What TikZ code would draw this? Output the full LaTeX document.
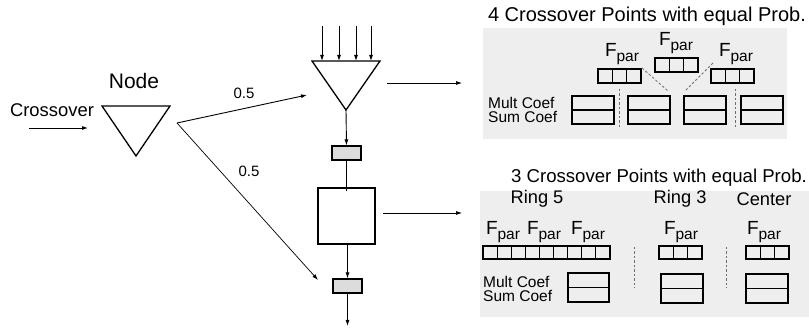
\documentclass[tikz,border=0pt]{standalone}
\usepackage{fontspec}
\setmainfont{Liberation Sans}
\usetikzlibrary{arrows.meta}
\definecolor{panelgray}{RGB}{238,238,238}
\definecolor{boxgray}{RGB}{220,220,220}
\definecolor{dashgray}{RGB}{110,110,110}
\newcommand{\fsz}[1]{\fontsize{#1}{#1}\selectfont}
\newcommand{\Fpar}{\fsz{19}F\raisebox{-0.3em}{\fsz{15.5}par}}
\begin{document}
\begin{tikzpicture}[x=1pt,y=-1pt,
  arr/.style={-{Latex[length=6pt,width=4pt]},line width=0.9pt},
  plain/.style={line width=0.9pt},
  tri/.style={line width=1.3pt,line join=miter},
  cell/.style={draw,line width=1.1pt},
  dsh/.style={dashed,dash pattern=on 2.5pt off 2pt,dashgray,line width=0.8pt},
  lbl/.style={inner sep=0pt},
  coef/.style={inner sep=0pt,anchor=west}]
\useasboundingbox (0,0) rectangle (809,328);
% panels
\fill[panelgray] (483,28) rectangle (787,139);
\fill[panelgray] (480,191) rectangle (809,317);
% left part
\node[lbl] (cross) at (52,110) {\fsz{18.4}Crossover};
\coordinate (cin) at (29,128);
\coordinate (cout) at (88,128);
\draw[arr] (cin) -- (cout);
\node[lbl] (nodelbl) at (134,81) {\fsz{21}Node};
\coordinate (t1a) at (102,106); \coordinate (t1b) at (170,106); \coordinate (t1c) at (136,156);
\draw[tri] (t1a) -- (t1b) -- (t1c) -- cycle;
\coordinate (split) at (177,123);
\coordinate (up) at (307,95);
\coordinate (down) at (318,280);
\draw[arr] (split) -- (up);
\draw[arr,line width=0.7pt] (split) -- (down);
\node[lbl] (p1) at (244,93) {\fsz{15}0.5};
\node[lbl] (p2) at (249,171) {\fsz{15}0.5};
% top triangle
\coordinate (t2a) at (312,61); \coordinate (t2b) at (380,61); \coordinate (t2c) at (346,110);
\draw[tri] (t2a) -- (t2b) -- (t2c) -- cycle;
\foreach \xx/\nm in {322/i1,339/i2,356/i3,371/i4}{
  \coordinate (\nm s) at (\xx,26);
  \coordinate (\nm e) at (\xx,61);
  \draw[arr] (\nm s) -- (\nm e);
}
\node[cell,fill=boxgray,minimum width=29pt,minimum height=14pt,inner sep=0pt] (g1) at (346.5,153) {};
\draw[arr] (t2c) -- (g1.north);
\node[cell,minimum width=57pt,minimum height=56pt,inner sep=0pt] (big) at (346.5,216) {};
\draw[plain] ([yshift=2pt]g1.south) -- ([yshift=-4pt]big.north);
\node[cell,fill=boxgray,minimum width=29pt,minimum height=14pt,inner sep=0pt] (g2) at (347.5,286) {};
\draw[arr] (big.south -| g2.north) -- (g2.north);
\coordinate (outend) at (347.5,326);
\draw[arr] (g2.south) -- (outend);
\coordinate (r1s) at (387,83); \coordinate (r1e) at (462,83);
\draw[arr,line width=0.7pt] (r1s) -- (r1e);
\coordinate (r2s) at (383,213); \coordinate (r2e) at (462,213);
\draw[arr,line width=0.7pt] (r2s) -- (r2e);
% panel 1
\node[lbl] (title1) at (647,16) {\fsz{20}4 Crossover Points with equal Prob.};
\foreach \x/\y/\nm in {598/69/a,655/58/b,711/69/c}{
  \draw[cell] (\x,\y) rectangle ++(43,14);
  \draw[line width=1.1pt] (\x+14.33,\y) -- ++(0,14) (\x+28.67,\y) -- ++(0,14);
  \coordinate (\nm) at (\x,\y);
}
\foreach \x in {572,628,684,741}{
  \draw[cell] (\x,96) rectangle ++(42,28);
  \draw[line width=1.1pt] (\x,110) -- ++(42,0);
}
\coordinate (d1s) at (642,68); \coordinate (d1e) at (668,91);
\coordinate (d2s) at (713,63); \coordinate (d2e) at (685,91);
\draw[dsh] (d1s) -- (d1e);
\draw[dsh] (d2s) -- (d2e);
\coordinate (v1s) at (619,89); \coordinate (v1e) at (619,129);
\coordinate (v2s) at (735,89); \coordinate (v2e) at (735,129);
\draw[dsh] (v1s) -- (v1e);
\draw[dsh] (v2s) -- (v2e);
\node[lbl] (fa) at (622,54) {\Fpar};
\node[lbl] (fb) at (676,43) {\Fpar};
\node[lbl] (fc) at (736,54) {\Fpar};
\node[coef] (coefa) at (488,103) {\fsz{15.5}Mult Coef};
\node[coef] (coefb) at (488,117) {\fsz{15.5}Sum Coef};
% panel 2
\node[lbl] (title2) at (659,178) {\fsz{18.6}3 Crossover Points with equal Prob.};
\node[lbl] (ring5) at (537,199) {\fsz{18.3}Ring 5};
\node[lbl] (ring3) at (680,199) {\fsz{18.3}Ring 3};
\node[lbl] (center) at (764,199) {\fsz{18.3}Center};
\draw[cell] (483,246) rectangle (610,259);
\foreach \k in {1,...,8}{ \draw[line width=1.1pt] (483+\k*14.11,246) -- ++(0,13); }
\foreach \x in {659,746}{
  \draw[cell] (\x,246) rectangle ++(43,13);
  \draw[line width=1.1pt] (\x+14.33,246) -- ++(0,13) (\x+28.67,246) -- ++(0,13);
}
\draw[cell] (568,273) rectangle (609,302); \draw[line width=1.1pt] (568,287.5) -- (609,287.5);
\foreach \x in {661,746}{
  \draw[cell] (\x,274) rectangle ++(42,29);
  \draw[line width=1.1pt] (\x,288.5) -- ++(42,0);
}
\coordinate (v3s) at (634,247); \coordinate (v3e) at (634,288);
\coordinate (v4s) at (726,247); \coordinate (v4e) at (726,288);
\draw[dsh] (v3s) -- (v3e);
\draw[dsh] (v4s) -- (v4e);
\foreach \x/\nm in {503/f1,544/f2,588/f3,681/f4,764/f5}{
  \node[lbl] (\nm) at (\x,232) {\Fpar};
}
\node[coef] (coefc) at (483,282) {\fsz{15.5}Mult Coef};
\node[coef] (coefd) at (483,296) {\fsz{15.5}Sum Coef};
\end{tikzpicture}
\end{document}
